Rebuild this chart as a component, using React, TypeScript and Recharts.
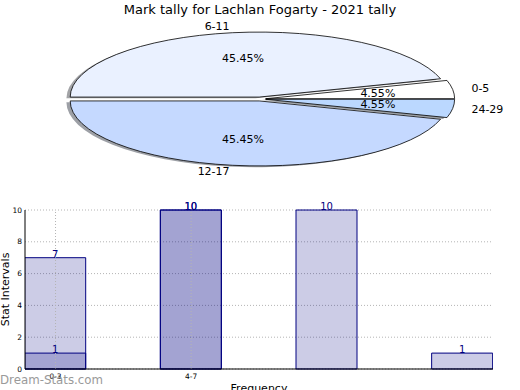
import { PieChart, Pie, BarChart, Bar, XAxis, YAxis, CartesianGrid, LabelList, ReferenceLine } from 'recharts'

const sliceNames = ['0-5', '6-11', '12-17', '24-29']
const sliceCounts = [1, 10, 10, 1]
const sliceColors = ['#ffffff', '#eaf1ff', '#c5d9ff', '#bbd8ff']

const binPos = [0, 1, 2, 3]
const tickPos = [0, 1]
const tickLabels = ['0-3', '4-7']
const lightCounts = [7, 10, 10, 1]
const darkCounts = [1, 10, 0, 0]

const FONT = '"DejaVu Sans", sans-serif'
const NAVY = '#000080'
const GRID = '#b4b4b4'

// matplotlib-ish squashed pie
const RX = 189
const RY = 65
const EXPLODE = 0.03
const RAD = Math.PI / 180

const pieData = sliceNames.map((name, i) => ({ name, value: sliceCounts[i] }))
const barData = binPos.map((pos, i) => ({ pos, light: lightCounts[i], dark: darkCounts[i] }))

function wedgePath(ox: number, oy: number, start: number, end: number) {
  const x1 = ox + RX * Math.cos(start * RAD)
  const y1 = oy - RY * Math.sin(start * RAD)
  const x2 = ox + RX * Math.cos(end * RAD)
  const y2 = oy - RY * Math.sin(end * RAD)
  const large = end - start > 180 ? 1 : 0
  return `M${ox},${oy} L${x1},${y1} A${RX},${RY} 0 ${large} 0 ${x2},${y2} Z`
}

function origin(cx: number, cy: number, mid: number) {
  return [cx + EXPLODE * RX * Math.cos(mid * RAD), cy - EXPLODE * RY * Math.sin(mid * RAD)]
}

function shade(hex: string) {
  const n = parseInt(hex.slice(1), 16)
  const r = Math.round(((n >> 16) & 255) * 0.3)
  const g = Math.round(((n >> 8) & 255) * 0.3)
  const b = Math.round((n & 255) * 0.3)
  return `rgb(${r},${g},${b})`
}

const renderShadow = (p: any) => {
  const [ox, oy] = origin(p.cx, p.cy, p.midAngle)
  return (
    <path
      d={wedgePath(ox - 0.02 * RX, oy + 0.02 * RY, p.startAngle, p.endAngle)}
      fill={shade(sliceColors[p.index])}
      fillOpacity={0.5}
      stroke="none"
    />
  )
}

const renderWedge = (p: any) => {
  const [ox, oy] = origin(p.cx, p.cy, p.midAngle)
  const c = Math.cos(p.midAngle * RAD)
  const s = Math.sin(p.midAngle * RAD)
  return (
    <g fontFamily={FONT} fontSize={11} fill="#000">
      <path d={wedgePath(ox, oy, p.startAngle, p.endAngle)} fill={sliceColors[p.index]} stroke="#000" strokeWidth={0.8} />
      <text x={ox + 0.6 * RX * c} y={oy - 0.6 * RY * s} textAnchor="middle" dominantBaseline="central">
        {(p.percent * 100).toFixed(2)}%
      </text>
      <text x={ox + 1.1 * RX * c} y={oy - 1.1 * RY * s} textAnchor={c >= 0 ? 'start' : 'end'} dominantBaseline="central">
        {p.name}
      </text>
    </g>
  )
}

const hideZero = (v: any) => (v ? v : '')

export default function App() {
  return (
    <div style={{ position: 'absolute', left: 0, top: 0, width: 520, height: 390, background: '#fff', fontFamily: FONT, overflow: 'hidden' }}>
      <div style={{ position: 'absolute', top: 0, left: 0, width: 520, textAlign: 'center', fontSize: 13, lineHeight: '20px' }}>
        Mark tally for Lachlan Fogarty - 2021 tally
      </div>

      <div style={{ position: 'absolute', top: 0, left: 0 }}>
        <PieChart width={520} height={195} margin={{ top: 0, right: 0, bottom: 0, left: 0 }}>
          <Pie
            data={pieData}
            dataKey="value"
            nameKey="name"
            cx={260}
            cy={99}
            outerRadius={RY}
            startAngle={0}
            endAngle={360}
            fill="none"
            stroke="none"
            labelLine={false}
            label={renderShadow}
            isAnimationActive={false}
          />
          <Pie
            data={pieData}
            dataKey="value"
            nameKey="name"
            cx={260}
            cy={99}
            outerRadius={RY}
            startAngle={0}
            endAngle={360}
            fill="none"
            stroke="none"
            labelLine={false}
            label={renderWedge}
            isAnimationActive={false}
          />
        </PieChart>
      </div>

      <div style={{ position: 'absolute', top: 190, left: 0 }}>
        <BarChart width={520} height={200} data={barData} margin={{ top: 20, right: 27, bottom: 0, left: 0 }}>
          <CartesianGrid stroke={GRID} strokeDasharray="1 2" vertical={false} />
          {tickPos.map((x) => (
            <ReferenceLine key={x} x={x} stroke={GRID} strokeDasharray="1 2" />
          ))}
          <XAxis
            type="number"
            dataKey="pos"
            domain={[-0.225, 3.225]}
            ticks={tickPos}
            interval={0}
            tickFormatter={(v) => tickLabels[v] ?? ''}
            tick={{ fontSize: 7.5, fill: '#000', fontFamily: FONT }}
            tickLine={false}
            tickSize={3}
            axisLine={{ stroke: '#000' }}
            height={21}
            allowDataOverflow
            label={{ value: 'Frequency', position: 'bottom', offset: -6, fontSize: 11, fill: '#000', fontFamily: FONT }}
          />
          <XAxis
            xAxisId="top"
            orientation="top"
            type="number"
            dataKey="pos"
            domain={[-0.225, 3.225]}
            ticks={binPos}
            tick={false}
            tickLine={false}
            axisLine={{ stroke: '#000' }}
            height={0}
            allowDataOverflow
          />
          <YAxis
            domain={[0, 10]}
            ticks={[0, 2, 4, 6, 8, 10]}
            tick={{ fontSize: 7.5, fill: '#000', fontFamily: FONT }}
            tickLine={false}
            tickSize={1}
            axisLine={{ stroke: '#000' }}
            width={25}
            label={{ value: 'Stat Intervals', angle: -90, position: 'insideLeft', offset: 5, fontSize: 11, fill: '#000', fontFamily: FONT, style: { textAnchor: 'middle' } }}
          />
          <YAxis
            yAxisId="right"
            orientation="right"
            domain={[0, 10]}
            tick={false}
            tickLine={false}
            axisLine={{ stroke: '#000' }}
            width={0}
          />
          <Bar dataKey="light" barSize={61} fill={NAVY} fillOpacity={0.2} stroke={NAVY} strokeWidth={1} isAnimationActive={false}>
            <LabelList dataKey="light" position="top" offset={0} fill={NAVY} fontSize={10} fontFamily={FONT} formatter={hideZero} />
          </Bar>
          <Bar dataKey="dark" xAxisId="top" barSize={61} fill={NAVY} fillOpacity={0.2} stroke={NAVY} strokeWidth={1} isAnimationActive={false}>
            <LabelList dataKey="dark" position="top" offset={0} fill={NAVY} fontSize={10} fontFamily={FONT} formatter={hideZero} />
          </Bar>
        </BarChart>
      </div>

      <div style={{ position: 'absolute', left: 0, top: 373, fontSize: 11.8, color: '#9a9a9a', lineHeight: '14px' }}>
        Dream-Stats.com
      </div>
    </div>
  )
}
